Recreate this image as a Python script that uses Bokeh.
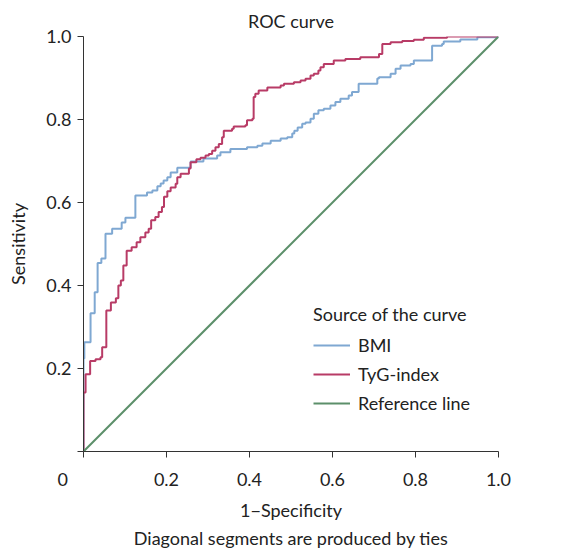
from bokeh.plotting import figure
from bokeh.models import Range1d, FixedTicker, Legend, LegendItem, Title
from bokeh.embed import file_html
from bokeh.resources import INLINE

# ---- data ----
# ROC step points: (1-specificity where the jump happens, sensitivity after jump)
bmi_fpr = [0.0, 0.0, 0.002, 0.017, 0.027, 0.034, 0.043, 0.053, 0.069, 0.092, 0.101,
           0.125, 0.153, 0.166, 0.178, 0.186, 0.193, 0.202, 0.210, 0.226, 0.258,
           0.289, 0.322, 0.330, 0.354, 0.394, 0.419, 0.431, 0.451, 0.475, 0.491,
           0.503, 0.508, 0.516, 0.527, 0.535, 0.547, 0.555, 0.566, 0.579, 0.595,
           0.607, 0.619, 0.639, 0.647, 0.663, 0.708, 0.712, 0.740, 0.752, 0.764,
           0.788, 0.796, 0.840, 0.864, 0.868, 0.908, 0.949, 1.0]
bmi_tpr = [0.0, 0.224, 0.263, 0.333, 0.384, 0.454, 0.465, 0.525, 0.537, 0.552, 0.563,
           0.617, 0.624, 0.629, 0.639, 0.646, 0.653, 0.661, 0.672, 0.684, 0.699,
           0.706, 0.713, 0.721, 0.729, 0.733, 0.737, 0.742, 0.749, 0.754, 0.757,
           0.766, 0.773, 0.781, 0.790, 0.793, 0.802, 0.814, 0.822, 0.826, 0.834,
           0.842, 0.850, 0.858, 0.866, 0.886, 0.899, 0.902, 0.910, 0.922, 0.930,
           0.934, 0.942, 0.978, 0.982, 0.988, 0.993, 0.998, 1.0]

tyg_fpr = [0.0, 0.0, 0.005, 0.016, 0.029, 0.041, 0.045, 0.055, 0.066, 0.078, 0.084,
           0.090, 0.096, 0.104, 0.116, 0.128, 0.137, 0.149, 0.157, 0.163, 0.173,
           0.181, 0.189, 0.194, 0.202, 0.210, 0.222, 0.226, 0.234, 0.254, 0.258,
           0.272, 0.282, 0.294, 0.302, 0.310, 0.318, 0.326, 0.334, 0.338, 0.358,
           0.362, 0.390, 0.394, 0.407, 0.410, 0.414, 0.422, 0.443, 0.475, 0.483,
           0.507, 0.523, 0.535, 0.547, 0.555, 0.566, 0.571, 0.579, 0.603, 0.631,
           0.667, 0.712, 0.720, 0.740, 0.768, 0.796, 0.820, 0.876, 1.0]
tyg_tpr = [0.0, 0.142, 0.186, 0.218, 0.222, 0.227, 0.251, 0.340, 0.359, 0.369, 0.400,
           0.412, 0.448, 0.484, 0.492, 0.504, 0.516, 0.528, 0.537, 0.557, 0.565,
           0.577, 0.589, 0.614, 0.627, 0.636, 0.645, 0.661, 0.669, 0.682, 0.697,
           0.704, 0.708, 0.713, 0.717, 0.725, 0.733, 0.741, 0.757, 0.773, 0.778,
           0.783, 0.786, 0.798, 0.802, 0.854, 0.862, 0.870, 0.877, 0.882, 0.886,
           0.890, 0.894, 0.898, 0.906, 0.910, 0.918, 0.926, 0.934, 0.942, 0.946,
           0.950, 0.958, 0.982, 0.986, 0.989, 0.992, 0.997, 1.0, 1.0]

ref_x = [0.0, 1.0]
ref_y = [0.0, 1.0]

tick_values = [0.0, 0.2, 0.4, 0.6, 0.8, 1.0]
# the "0" sits at the lower-left corner, left of the tick (padded with no-break spaces)
x_tick_labels = ["0" + "\u00a0" * 9, "0.2", "0.4", "0.6", "0.8", "1.0"]
y_tick_labels = ["", "0.2", "0.4", "0.6", "0.8", "1.0"]

series_names = ["BMI", "TyG-index", "Reference line"]
title_text = "ROC curve"
x_label = "1\u2212Specificity"
y_label = "Sensitivity"
legend_title = "Source of the curve"
footnote = "Diagonal segments are produced by ties"


def staircase(xs, ys):
    sx, sy = [xs[0]], [ys[0]]
    for i in range(1, len(xs)):
        sx += [xs[i], xs[i]]
        sy += [ys[i - 1], ys[i]]
    return sx, sy


FONT = "Lato"
TXT = "#222222"
C_BMI = "#7fa8d2"
C_TYG = "#b83b66"
C_REF = "#5c8f6a"

p = figure(width=565, height=549, output_backend="svg", toolbar_location=None,
           x_range=Range1d(0, 1), y_range=Range1d(0, 1),
           min_border_left=83, min_border_right=67, min_border_top=36,
           min_border_bottom=98)
p.outline_line_color = None
p.grid.visible = False

p.title.text = title_text
p.title.align = "center"
p.title.text_font = FONT
p.title.text_font_size = "18px"
p.title.text_font_style = "normal"
p.title.text_color = TXT

for ax, lab, tl in ((p.xaxis[0], x_label, x_tick_labels), (p.yaxis[0], y_label, y_tick_labels)):
    ax.ticker = FixedTicker(ticks=tick_values)
    ax.major_label_overrides = {v: t for v, t in zip(tick_values, tl)}
    ax.axis_label = lab
    ax.axis_label_text_font = FONT
    ax.axis_label_text_font_size = "18px"
    ax.axis_label_text_font_style = "normal"
    ax.axis_label_text_color = TXT
    ax.major_label_text_font = FONT
    ax.major_label_text_font_size = "18px"
    ax.major_label_text_color = TXT
    ax.axis_line_color = "#333333"
    ax.major_tick_line_color = "#333333"
    ax.major_tick_out = 6
    ax.major_tick_in = 0
    ax.minor_tick_out = 0
    ax.minor_tick_in = 0

p.xaxis.major_label_standoff = 10
p.xaxis.axis_label_standoff = 6
p.yaxis.major_label_standoff = 6
p.yaxis.axis_label_standoff = 14

bx, by = staircase(bmi_fpr, bmi_tpr)
tx, ty = staircase(tyg_fpr, tyg_tpr)
r_bmi = p.line(bx, by, line_color=C_BMI, line_width=2)
r_tyg = p.line(tx, ty, line_color=C_TYG, line_width=2)
r_ref = p.line(ref_x, ref_y, line_color=C_REF, line_width=2)

legend = Legend(items=[LegendItem(label=series_names[0], renderers=[r_bmi]),
                       LegendItem(label=series_names[1], renderers=[r_tyg]),
                       LegendItem(label=series_names[2], renderers=[r_ref])],
                location=(230, 37), title=legend_title,
                title_text_font=FONT, title_text_font_size="18px",
                title_text_font_style="normal", title_text_color=TXT,
                title_standoff=9,
                label_text_font=FONT, label_text_font_size="18px", label_text_color=TXT,
                glyph_width=37, label_standoff=8, spacing=7, padding=0, margin=0,
                border_line_color=None, background_fill_alpha=0)
p.add_layout(legend)

p.add_layout(Title(text=footnote, align="center", text_font=FONT,
                   text_font_size="18px", text_font_style="normal",
                   text_color=TXT, standoff=2), "below")

open("out.html", "w").write(file_html(p, INLINE))
